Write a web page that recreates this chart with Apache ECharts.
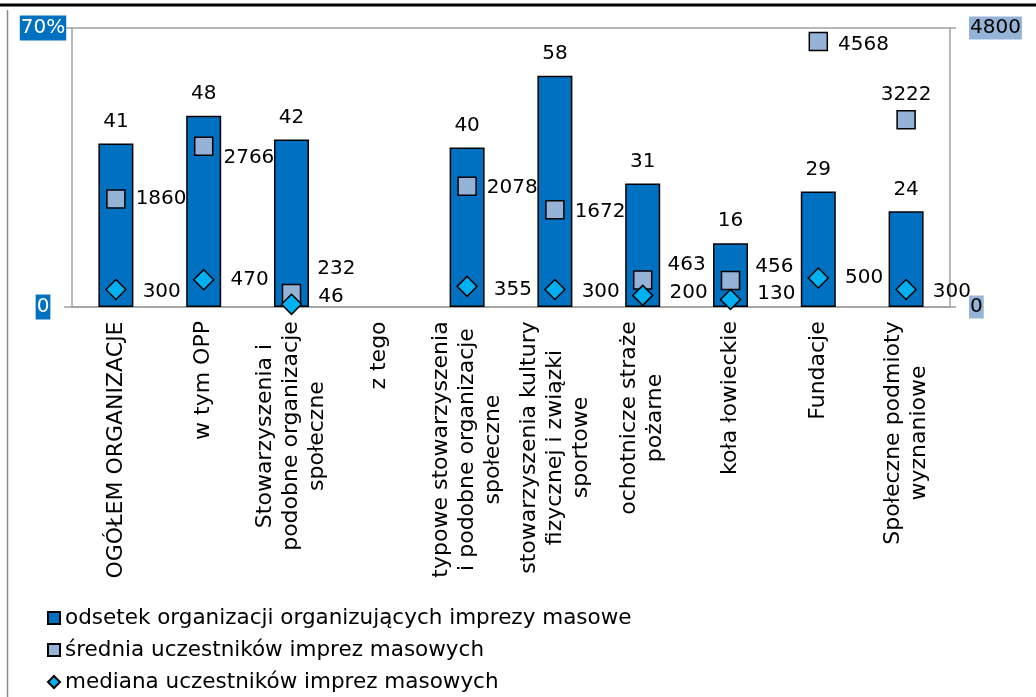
<!DOCTYPE html>
<html>
<head>
<meta charset="utf-8">
<script src="https://cdn.jsdelivr.net/npm/echarts@6/dist/echarts.min.js"></script>
<style>
    html, body { margin: 0; padding: 0; background: #fff; }
    #chart { width: 1036px; height: 697px; }
</style>
</head>
<body>
<div id="chart"></div>
<script>
    // kategorie (oś X)
    var categories = [
        'OGÓŁEM ORGANIZACJE',
        'w tym OPP',
        'Stowarzyszenia i\npodobne organizacje\nspołeczne',
        'z tego',
        'typowe stowarzyszenia\ni podobne organizacje\nspołeczne',
        'stowarzyszenia kultury\nfizycznej i związki\nsportowe',
        'ochotnicze straże\npożarne',
        'koła łowieckie',
        'Fundacje',
        'Społeczne podmioty\nwyznaniowe'
    ];
    var seriesNames = [
        'odsetek organizacji organizujących imprezy masowe',
        'średnia uczestników imprez masowych',
        'mediana uczestników imprez masowych'
    ];
    // odsetek (%), lewa oś
    var odsetek = [41, 48, 42, null, 40, 58, 31, 16, 29, 24];
    // średnia i mediana, prawa oś
    var srednia = [1860, 2766, 232, null, 2078, 1672, 463, 456, 4568, 3222];
    var mediana = [300, 470, 46, null, 355, 300, 200, 130, 500, 300];
    var leftTicks = [0, 70];
    var rightTicks = [0, 4800];

    // przesunięcia etykiet (jak w oryginale)
    var avgLabelFix = {
        1: { offset: [0, 12] },
        2: { offset: [6, -25] },
        4: { offset: [0, 2] },
        5: { offset: [0, 2] },
        6: { offset: [5, -15] },
        7: { offset: [5, -14] },
        8: { offset: [0, 3] },
        9: { position: 'top', distance: 5 }
    };
    var medLabelFix = {
        0: { offset: [0, 2] },
        2: { offset: [0, -8] },
        4: { offset: [0, 3] },
        5: { offset: [0, 2] },
        6: { offset: [0, -3] },
        7: { offset: [0, -6] },
        9: { offset: [0, 2] }
    };

    var FONT = 'DejaVu Sans';
    var CAT_SIZE = 22;

    // szerokosc najdluzszej linii -> wysrodkowanie linii etykiet
    var ctx = document.createElement('canvas').getContext('2d');
    ctx.font = CAT_SIZE + 'px "' + FONT + '"';
    var rich = {};
    categories.forEach(function (c, i) {
        var w = 0;
        c.split('\n').forEach(function (l) { w = Math.max(w, ctx.measureText(l).width); });
        rich['c' + i] = { width: Math.ceil(w) + 2, align: 'center', fontSize: CAT_SIZE, lineHeight: 26, color: '#000', fontFamily: FONT };
    });

    function withFix(arr, fix) {
        return arr.map(function (v, i) {
            return fix[i] ? { value: v, label: fix[i] } : v;
        });
    }

    var myChart = echarts.init(document.getElementById('chart'));
    var option = {
        animation: false,
        textStyle: { fontFamily: FONT },
        grid: { left: 72, right: 86, top: 28, bottom: 390 },
        legend: {
            orient: 'vertical',
            left: 47,
            top: 606,
            padding: 0,
            itemWidth: 12,
            itemHeight: 12,
            itemGap: 8,
            textStyle: { fontSize: 21.5, color: '#000', lineHeight: 24 },
            data: [
                { name: seriesNames[0], icon: 'rect' },
                { name: seriesNames[1], icon: 'rect' },
                { name: seriesNames[2], icon: 'diamond' }
            ]
        },
        xAxis: {
            type: 'category',
            data: categories,
            axisLine: { lineStyle: { color: '#a0a0a0', width: 1.5 } },
            axisTick: { show: false },
            axisLabel: {
                interval: 0,
                rotate: 90,
                margin: 13,
                formatter: function (value, idx) {
                    return value.split('\n').map(function (l) { return '{c' + idx + '|' + l + '}'; }).join('\n');
                },
                rich: rich
            }
        },
        yAxis: [
            {
                type: 'value',
                min: leftTicks[0],
                max: leftTicks[1],
                interval: leftTicks[1],
                axisLine: { show: true, lineStyle: { color: '#a0a0a0', width: 1.5 } },
                axisTick: { show: true, length: 8, lineStyle: { color: '#a0a0a0', width: 1.5 } },
                splitLine: { show: true, lineStyle: { color: '#a0a0a0', width: 1.5 } },
                axisLabel: {
                    fontSize: 20,
                    color: '#fff',
                    backgroundColor: '#0070C0',
                    padding: [3, 1, 2, 1],
                    align: 'center',
                    margin: 29,
                    formatter: function (v) { return v === leftTicks[1] ? v + '%' : String(v); }
                }
            },
            {
                type: 'value',
                min: rightTicks[0],
                max: rightTicks[1],
                interval: rightTicks[1],
                position: 'right',
                axisLine: { show: true, lineStyle: { color: '#a0a0a0', width: 1.5 } },
                axisTick: { show: true, length: 6, lineStyle: { color: '#a0a0a0', width: 1.5 } },
                splitLine: { show: false },
                axisLabel: {
                    fontSize: 20,
                    color: '#000',
                    backgroundColor: '#95B3D7',
                    padding: [2, 1, 1, 1],
                    margin: 19,
                    formatter: function (v) { return String(v); }
                }
            }
        ],
        series: [
            {
                name: seriesNames[0],
                type: 'bar',
                yAxisIndex: 0,
                data: odsetek,
                barWidth: 35,
                z: 2,
                itemStyle: { color: '#0070C0', borderColor: '#000', borderWidth: 1.5 },
                label: { show: true, position: 'top', distance: 12, fontSize: 20, color: '#000' }
            },
            {
                name: seriesNames[1],
                type: 'scatter',
                yAxisIndex: 1,
                data: withFix(srednia, avgLabelFix),
                symbol: 'rect',
                symbolSize: 18,
                z: 3,
                itemStyle: { color: '#95B3D7', borderColor: '#000', borderWidth: 1.5, opacity: 1 },
                label: { show: true, position: 'right', distance: 10, fontSize: 20, color: '#000' }
            },
            {
                name: seriesNames[2],
                type: 'scatter',
                yAxisIndex: 1,
                data: withFix(mediana, medLabelFix),
                symbol: 'diamond',
                symbolSize: 20,
                z: 4,
                itemStyle: { color: '#00B0F0', borderColor: '#000', borderWidth: 1.5, opacity: 1 },
                label: { show: true, position: 'right', distance: 16, fontSize: 20, color: '#000' }
            }
        ],
        graphic: [
            { type: 'line', shape: { x1: 0, y1: 5, x2: 1036, y2: 5 }, style: { stroke: '#000', lineWidth: 3 } },
            { type: 'line', shape: { x1: 7.5, y1: 10, x2: 7.5, y2: 697 }, style: { stroke: '#8c8c8c', lineWidth: 1.5 } }
        ]
    };
    myChart.setOption(option);
</script>
</body>
</html>
